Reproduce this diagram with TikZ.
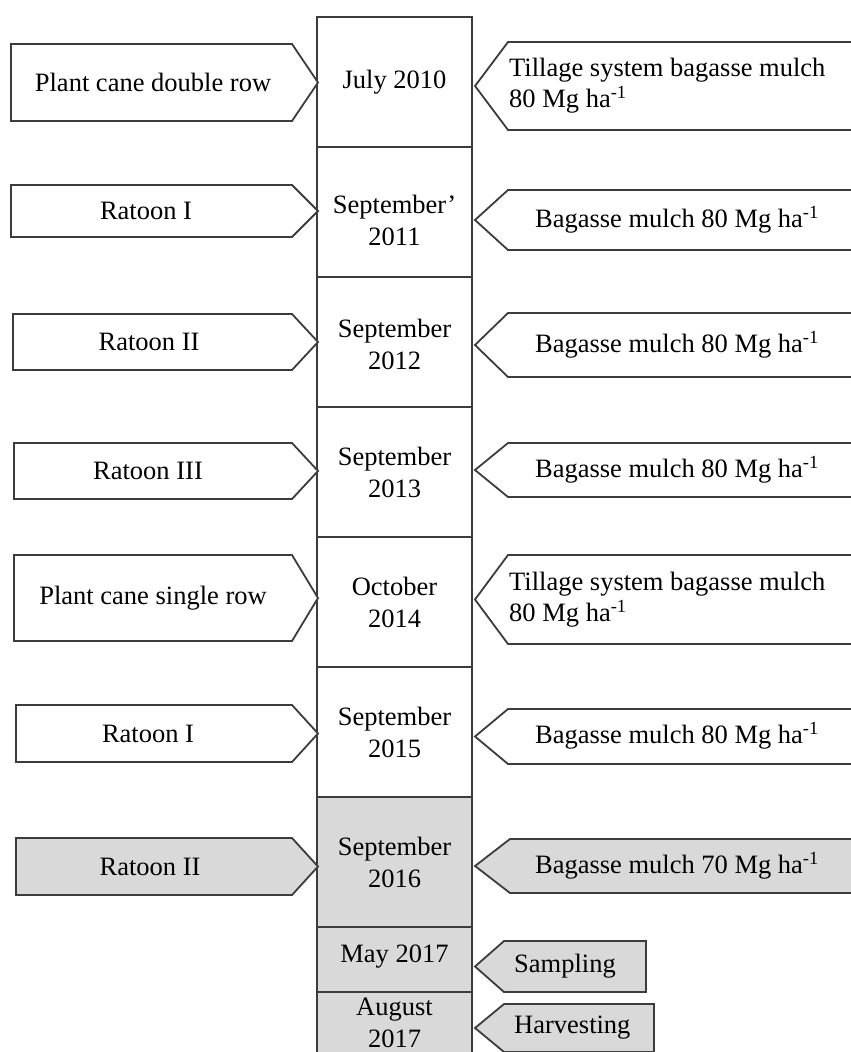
\documentclass[tikz,border=0pt]{standalone}
\usepackage{fontspec}
\setmainfont{Liberation Serif}
\definecolor{edgec}{HTML}{3C3C3C}
\definecolor{shade}{HTML}{D9D9D9}
\tikzset{
  shp/.style={draw=edgec, line width=1.8pt, line join=miter, fill=white},
  grey/.style={fill=shade},
  lbl/.style={inner sep=0pt, font=\fontsize{26.5}{32}\selectfont, align=center},
  lbll/.style={inner sep=0pt, font=\fontsize{26.5}{31}\selectfont, align=left, anchor=west},
}
\newcommand\larrowshape[4]{%
  \draw[shp,#1] (#4,#2) -- (292,#2) -- (318,{(#2+#3)/2}) -- (292,#3) -- (#4,#3) -- cycle;}
\newcommand\rarrowshape[5]{%
  \draw[shp,#1] (#5,#2) -- (#4,#2) -- (475,{(#2+#3)/2}) -- (#4,#3) -- (#5,#3) -- cycle;}
\begin{document}
\begin{tikzpicture}[x=1pt,y=-1pt]
\useasboundingbox (0,0) rectangle (851,1052);
\fill[white] (0,0) rectangle (851,1052);

% central column
\draw[shp] (317,17) rectangle (472,147);
\draw[shp] (317,147) rectangle (472,277);
\draw[shp] (317,277) rectangle (472,407);
\draw[shp] (317,407) rectangle (472,537);
\draw[shp] (317,537) rectangle (472,667);
\draw[shp] (317,667) rectangle (472,797);
\draw[shp,grey] (317,797) rectangle (472,927);
\draw[shp,grey] (317,927) rectangle (472,992);
\draw[shp,grey] (317,992) rectangle (472,1058);

\node[lbl] (d1) at (394.5,82) {July 2010};
\node[lbl] (d2) at (394.5,220) {September'\\2011};
\node[lbl] (d3) at (394.5,344) {September\\2012};
\node[lbl] (d4) at (394.5,472) {September\\2013};
\node[lbl] (d5) at (394.5,602) {October\\2014};
\node[lbl] (d6) at (394.5,732) {September\\2015};
\node[lbl] (d7) at (394.5,862) {September\\2016};
\node[lbl] (d8) at (394.5,957) {May 2017};
\node[lbl] (d9) at (394.5,1023) {August\\2017};

% left arrows
\larrowshape{}{44}{121}{11}
\larrowshape{}{185}{237}{11}
\larrowshape{}{314}{370}{13}
\larrowshape{}{443}{499}{14}
\larrowshape{}{555}{641}{14}
\larrowshape{}{705}{762}{16}
\larrowshape{grey}{838}{895}{16}

\node[lbl] (l1) at (153,82.5) {Plant cane double row};
\node[lbl] (l2) at (146,211) {Ratoon I};
\node[lbl] (l3) at (149,342) {Ratoon II};
\node[lbl] (l4) at (148,471) {Ratoon III};
\node[lbl] (l5) at (153,598) {Plant cane single row};
\node[lbl] (l6) at (148,733.5) {Ratoon I};
\node[lbl] (l7) at (150,866.5) {Ratoon II};

% right arrows
\rarrowshape{}{42}{130}{508}{858}
\rarrowshape{}{190}{250}{508}{858}
\rarrowshape{}{313}{377}{508}{858}
\rarrowshape{}{443}{497}{508}{858}
\rarrowshape{}{555}{644}{508}{858}
\rarrowshape{}{709}{764}{508}{858}
\rarrowshape{grey}{839}{893}{510}{858}
\rarrowshape{grey}{941}{992}{504}{646}
\rarrowshape{grey}{1004}{1052}{504}{654}

\node[lbll] (r1) at (509,86) {Tillage system bagasse mulch\\80 Mg ha\textsuperscript{-1}};
\node[lbl] (r2) at (677,220) {Bagasse mulch 80 Mg ha\textsuperscript{-1}};
\node[lbl] (r3) at (677,345) {Bagasse mulch 80 Mg ha\textsuperscript{-1}};
\node[lbl] (r4) at (677,470) {Bagasse mulch 80 Mg ha\textsuperscript{-1}};
\node[lbll] (r5) at (509,600) {Tillage system bagasse mulch\\80 Mg ha\textsuperscript{-1}};
\node[lbl] (r6) at (677,736) {Bagasse mulch 80 Mg ha\textsuperscript{-1}};
\node[lbl] (r7) at (677,866) {Bagasse mulch 70 Mg ha\textsuperscript{-1}};
\node[lbll] (r8) at (514,966) {Sampling};
\node[lbll] (r9) at (514,1028) {Harvesting};
\end{tikzpicture}
\end{document}
